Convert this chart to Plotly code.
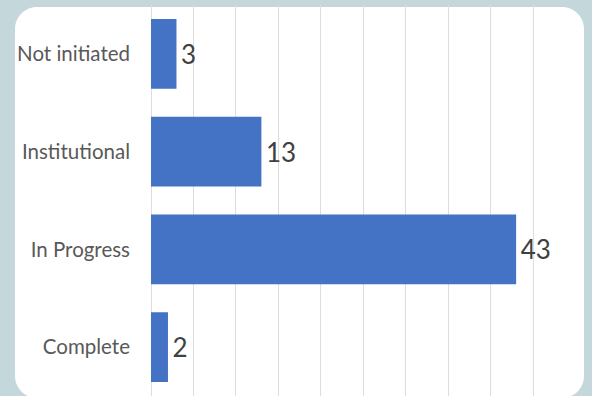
import plotly.graph_objects as go

categories = ["Not initiated", "Institutional", "In Progress", "Complete"]
values = [3, 13, 43, 2]
x_ticks = [0, 5, 10, 15, 20, 25, 30, 35, 40, 45, 50]

W, H = 592, 396
ML, MR, MT, MB = 151, 16, 5, 0
pw, ph = W - ML - MR, H - MT - MB

def px_to_paper(xp, yp):
    return (xp - ML) / pw, 1 - (yp - MT) / ph

# rounded panel path (in paper coordinates)
x0p, y0p, x1p, y1p, r = 15, 7, 584, 398, 22
k = 0.5523
def P(xp, yp):
    x, y = px_to_paper(xp, yp)
    return f"{x:.5f},{y:.5f}"
path = (
    f"M {P(x0p + r, y0p)} L {P(x1p - r, y0p)} "
    f"C {P(x1p - r + k*r, y0p)} {P(x1p, y0p + r - k*r)} {P(x1p, y0p + r)} "
    f"L {P(x1p, y1p - r)} "
    f"C {P(x1p, y1p - r + k*r)} {P(x1p - r + k*r, y1p)} {P(x1p - r, y1p)} "
    f"L {P(x0p + r, y1p)} "
    f"C {P(x0p + r - k*r, y1p)} {P(x0p, y1p - r + k*r)} {P(x0p, y1p - r)} "
    f"L {P(x0p, y0p + r)} "
    f"C {P(x0p, y0p + r - k*r)} {P(x0p + r - k*r, y0p)} {P(x0p + r, y0p)} Z"
)

fig = go.Figure(go.Bar(
    x=values, y=categories, orientation="h",
    marker=dict(color="#4472C4", line=dict(width=0)),
    text=[str(v) for v in values], textposition="outside",
    texttemplate="\u200a%{text}",
    textfont=dict(family="Lato", size=26, color="#404040"),
    cliponaxis=False,
    hoverinfo="skip",
))

fig.update_layout(
    width=W, height=H,
    margin=dict(l=ML, r=MR, t=MT, b=MB),
    paper_bgcolor="#C4D8DC",
    plot_bgcolor="rgba(0,0,0,0)",
    bargap=0.285,
    showlegend=False,
    shapes=[dict(type="path", xref="paper", yref="paper", path=path,
                 fillcolor="white", line=dict(width=0), layer="below")],
    xaxis=dict(range=[0, 50.05], tickvals=x_ticks, showticklabels=False,
               showgrid=True, gridcolor="#DDDDDD", gridwidth=1,
               zeroline=True, zerolinecolor="#DDDDDD", zerolinewidth=1,
               showline=False, fixedrange=True),
    yaxis=dict(categoryorder="array", categoryarray=categories,
               autorange="reversed", showgrid=False, zeroline=False,
               tickfont=dict(family="Lato", size=20.5, color="#595959"),
               ticklabelstandoff=20, fixedrange=True),
)

fig.write_html("out.html", config={"displayModeBar": False},
               post_script="document.body.style.margin='0';document.body.style.overflow='hidden';")
